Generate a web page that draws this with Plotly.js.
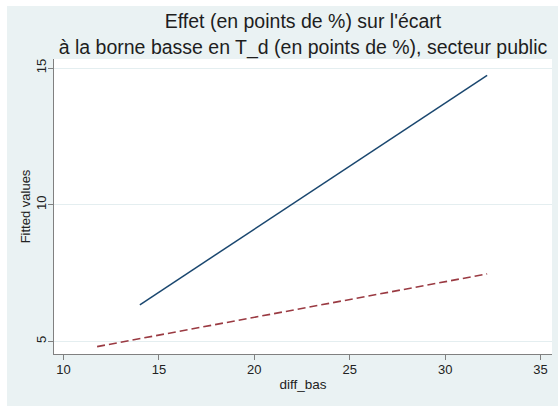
<!DOCTYPE html>
<html>
<head>
<meta charset="utf-8">
<script src="https://cdn.plot.ly/plotly-3.0.1.min.js"></script>
<style>html,body{margin:0;padding:0;background:#fff;}#chart{width:558px;height:406px;}</style>
</head>
<body>
<div id="chart"></div>
<script>
// Data
const seriesSolidX = [14.0, 32.2];
const seriesSolidY = [6.34, 14.73];
const seriesDashX = [11.76, 32.2];
const seriesDashY = [4.81, 7.47];
const xTicks = [10, 15, 20, 25, 30, 35];
const yTicks = [5, 10, 15];
const titleLines = ["Effet (en points de %) sur l'écart", "à la borne basse en T_d (en points de %), secteur public"];
const xLabel = "diff_bas";
const yLabel = "Fitted values";

const font = "Arial, 'Liberation Sans', sans-serif";
const traces = [
  {x: seriesSolidX, y: seriesSolidY, mode: 'lines', type: 'scatter',
   line: {color: '#1a476f', width: 1.5}, hoverinfo: 'skip', showlegend: false},
  {x: seriesDashX, y: seriesDashY, mode: 'lines', type: 'scatter',
   line: {color: '#9a3a42', width: 1.6, dash: '8px,4px'}, hoverinfo: 'skip', showlegend: false}
];
const layout = {
  width: 558, height: 406,
  margin: {l: 54, r: 6, t: 59, b: 52, pad: 0},
  paper_bgcolor: '#eaf2f3',
  plot_bgcolor: '#ffffff',
  font: {family: font, color: '#222', size: 13},
  title: {text: titleLines.join('<br>'), font: {family: font, size: 19.5, color: '#1e1e1e'},
          xref: 'paper', x: 0.5, xanchor: 'center', yref: 'container', y: 0.93, yanchor: 'middle'},
  shapes: [
    {type: 'rect', xref: 'paper', yref: 'paper', x0: -0.2, x1: (7 - 54) / 498, y0: -0.3, y1: 1.3,
     fillcolor: '#ffffff', line: {width: 0}, layer: 'above'},
    {type: 'rect', xref: 'paper', yref: 'paper', x0: -0.2, x1: 1.2, y0: (354 - 6) / 295, y1: 1.3,
     fillcolor: '#ffffff', line: {width: 0}, layer: 'above'}
  ],
  xaxis: {range: [9.5, 35.6], tickvals: xTicks, ticktext: xTicks.map(String),
          showgrid: false, zeroline: false, showline: true, linecolor: '#808080', linewidth: 1,
          ticks: 'outside', ticklen: 5, tickcolor: '#808080', tickfont: {size: 13, color: '#222'},
          ticklabelstandoff: -2, automargin: false,
          title: {text: xLabel, font: {size: 13.5, color: '#222'}, standoff: 3}},
  yaxis: {range: [4.54, 15.33], tickvals: yTicks, ticktext: yTicks.map(String), tickangle: -90,
          showgrid: true, gridcolor: '#e4eef0', gridwidth: 1, zeroline: false, showline: true,
          linecolor: '#808080', linewidth: 1, ticks: 'outside', ticklen: 5, tickcolor: '#808080',
          tickfont: {size: 13, color: '#222'}, automargin: false, ticklabelstandoff: -3,
          title: {text: yLabel, font: {size: 13, color: '#222'}, standoff: 0}}
};
Plotly.newPlot('chart', traces, layout, {displayModeBar: false, staticPlot: true});
</script>
</body>
</html>
